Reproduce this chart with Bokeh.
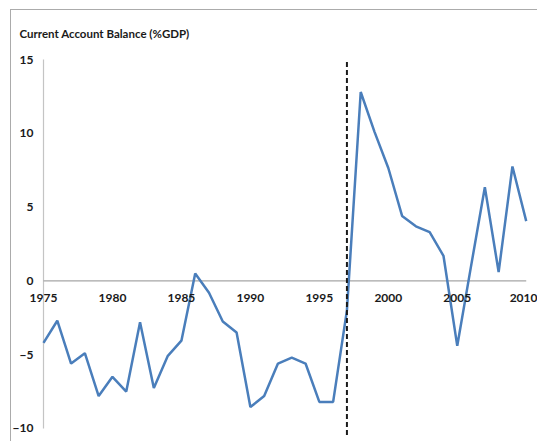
from bokeh.plotting import figure
from bokeh.models import Range1d, FixedTicker
from bokeh.embed import file_html
from bokeh.resources import INLINE

years = list(range(1975, 2011))
balance = [-4.2, -2.7, -5.6, -4.9, -7.8, -6.5, -7.5, -2.8, -7.25, -5.1,
           -4.05, 0.5, -0.8, -2.75, -3.5, -8.55, -7.8, -5.6, -5.2, -5.6,
           -8.2, -8.2, -2.0, 12.8, 10.1, 7.65, 4.4, 3.7, 3.3, 1.7,
           -4.4, 1.0, 6.35, 0.6, 7.75, 4.05]
x_ticks = [1975, 1980, 1985, 1990, 1995, 2000, 2005, 2010]
y_ticks = [-10, -5, 0, 5, 10, 15]
break_year = 1997
title_text = "Current Account Balance (%GDP)"

FONT = "Lato"
TEXT = "#1a1a1a"

# frame padded around the data so that the axis labels (drawn at fixed
# positions inside the frame) are not clipped
x_range = Range1d(1972.68, 2010.89)
y_range = Range1d(-10.95, 15.61)

p = figure(width=527, height=432, output_backend="svg", toolbar_location=None,
           x_range=x_range, y_range=y_range,
           min_border_left=0, min_border_right=0, min_border_top=40, min_border_bottom=0,
           title=title_text,
           styles={"margin-left": "10px", "margin-top": "9px",
                   "border-left": "1px solid #ababab", "border-top": "1px solid #ababab"})

p.title.align = "left"
p.title.offset = 8
p.title.standoff = 21
p.title.text_font = FONT
p.title.text_font_style = "bold"
p.title.text_font_size = "11.5px"
p.title.text_color = TEXT

p.outline_line_color = None
p.grid.visible = False
p.background_fill_color = "white"
p.border_fill_color = "white"

for ax in (p.xaxis[0], p.yaxis[0]):
    ax.axis_line_color = None
    ax.major_tick_line_color = None
    ax.minor_tick_line_color = None
    ax.major_tick_out = 0
    ax.major_tick_in = 0
    ax.minor_tick_out = 0
    ax.minor_tick_in = 0
    ax.major_label_text_font = FONT
    ax.major_label_text_font_style = "bold"
    ax.major_label_text_font_size = "12px"
    ax.major_label_text_color = TEXT

# y axis sits at the first year, x axis crosses at zero
p.yaxis.fixed_location = years[0]
p.yaxis.ticker = FixedTicker(ticks=y_ticks)
p.yaxis.major_label_standoff = 10
p.xaxis.fixed_location = 0
p.xaxis.ticker = FixedTicker(ticks=x_ticks)
p.xaxis.major_label_standoff = 13

# axis lines limited to the data extent
p.segment(x0=[years[0]], y0=[min(y_ticks)], x1=[years[0]], y1=[max(y_ticks)],
          line_color="#c4c4c4", line_width=1.2)
p.segment(x0=[years[0]], y0=[0], x1=[years[-1]], y1=[0],
          line_color="#a6a6a6", line_width=1.2)

p.line(years, balance, line_color="#4a7ebb", line_width=2.5)

# structural break marker
p.segment(x0=[break_year], y0=[y_range.start + 0.5], x1=[break_year], y1=[max(y_ticks)],
          line_color=TEXT, line_width=2, line_dash="5 3")

open("out.html", "w").write(file_html(p, INLINE))
